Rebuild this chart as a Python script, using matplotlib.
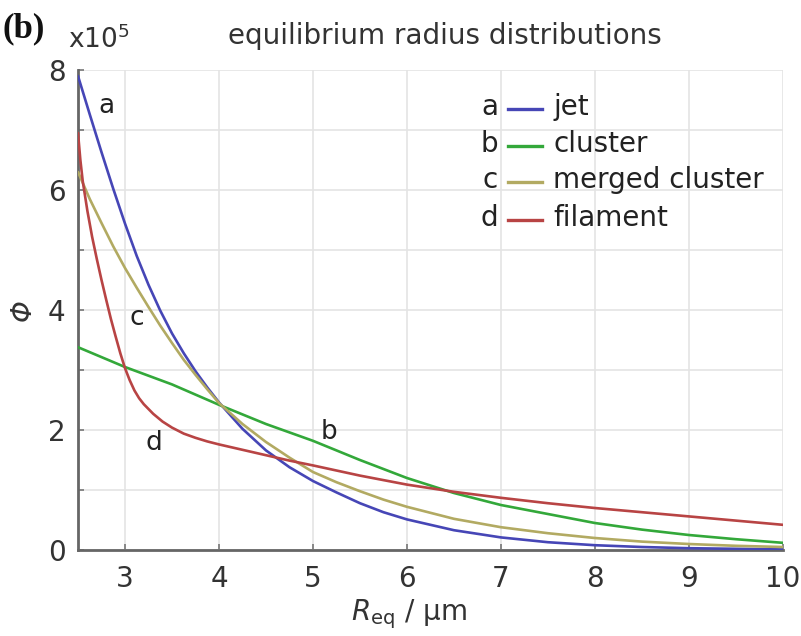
import numpy as np
import matplotlib
matplotlib.use("Agg")
import matplotlib.pyplot as plt

# values, in units of 1e5
r_jet = [2.5, 2.625, 2.75, 2.875, 3.0, 3.125, 3.25, 3.375, 3.5, 3.625, 3.75, 3.875, 4.0,
         4.25, 4.5, 4.75, 5.0, 5.25, 5.5, 5.75, 6.0, 6.5, 7.0, 7.5, 8.0, 8.5, 9.0, 9.5, 10.0]
phi_jet = [7.9, 7.26, 6.63, 6.02, 5.44, 4.9, 4.42, 3.99, 3.61, 3.28, 2.98, 2.71, 2.46,
           2.02, 1.66, 1.38, 1.15, 0.96, 0.78, 0.63, 0.51, 0.33, 0.21, 0.13, 0.08, 0.05, 0.03, 0.02, 0.01]

r_cluster = [2.5, 3.0, 3.5, 4.0, 4.5, 5.0, 5.5, 6.0, 6.5, 7.0, 7.5, 8.0, 8.5, 9.0, 9.5, 10.0]
phi_cluster = [3.38, 3.05, 2.76, 2.42, 2.1, 1.82, 1.5, 1.2, 0.95, 0.75, 0.6, 0.45, 0.34, 0.25, 0.18, 0.12]

r_merged = [2.5, 2.625, 2.75, 2.875, 3.0, 3.125, 3.25, 3.375, 3.5, 3.625, 3.75, 3.875, 4.0,
            4.25, 4.5, 4.75, 5.0, 5.25, 5.5, 5.75, 6.0, 6.5, 7.0, 7.5, 8.0, 8.5, 9.0, 9.5, 10.0]
phi_merged = [6.3, 5.85, 5.45, 5.06, 4.7, 4.37, 4.05, 3.74, 3.45, 3.17, 2.92, 2.68, 2.45,
              2.1, 1.8, 1.54, 1.3, 1.13, 0.98, 0.84, 0.72, 0.52, 0.38, 0.28, 0.2, 0.14, 0.1, 0.07, 0.05]

r_fil = [2.5, 2.525, 2.55, 2.6, 2.65, 2.7, 2.75, 2.8, 2.85, 2.9, 2.95, 3.0, 3.05, 3.1, 3.15,
         3.2, 3.3, 3.4, 3.5, 3.625, 3.75, 3.875, 4.0, 4.25, 4.5, 4.75, 5.0, 5.5, 6.0, 6.5,
         7.0, 7.5, 8.0, 8.5, 9.0, 9.5, 10.0]
phi_fil = [6.95, 6.5, 6.15, 5.65, 5.22, 4.85, 4.5, 4.17, 3.85, 3.56, 3.28, 3.03, 2.83, 2.66, 2.53,
           2.43, 2.27, 2.14, 2.04, 1.94, 1.87, 1.81, 1.76, 1.67, 1.58, 1.49, 1.41, 1.24, 1.09, 0.97,
           0.87, 0.78, 0.7, 0.63, 0.56, 0.49, 0.42]

letters = ["a", "b", "c", "d"]
names = ["jet", "cluster", "merged cluster", "filament"]
colors = ["#4646b6", "#33a83a", "#b2aa62", "#b84444"]

fig = plt.figure(figsize=(8.01, 6.36), dpi=100)
ax = fig.add_axes([0.0974, 0.1352, 0.880, 0.7547])

series = [(r_jet, phi_jet), (r_cluster, phi_cluster), (r_merged, phi_merged), (r_fil, phi_fil)]
for (x, y), c in zip(series, colors):
    ax.plot(x, y, color=c, lw=1.9, solid_capstyle="round", zorder=3)

ax.set_xlim(2.5, 10)
ax.set_ylim(0, 8)
ax.set_xticks(range(3, 11))
ax.set_yticks(range(0, 9))
ax.set_yticklabels([str(v) if v % 2 == 0 else "" for v in range(0, 9)])
ax.grid(True, color="#e4e4e4", lw=1.2, zorder=0)
ax.tick_params(direction="in", length=4, width=1.2, color="#777777",
               labelsize=20, labelcolor="#333333")
ax.tick_params(axis="x", pad=11)
ax.tick_params(axis="y", pad=9)
for s in ["top", "right"]:
    ax.spines[s].set_visible(False)
for s in ["left", "bottom"]:
    ax.spines[s].set_color("#666666")
    ax.spines[s].set_linewidth(2)

ax.set_xlabel(r"$R_{\rm eq}$ / μm", fontsize=20, color="#333333")
ax.xaxis.set_label_coords(0.47, -0.098)
ax.set_ylabel("Φ", fontsize=20, style="italic", color="#333333", labelpad=8)

# curve letters
ax.text(2.80, 7.4, "a", fontsize=19, color="#222222", ha="center", va="center")
ax.text(3.13, 3.87, "c", fontsize=19, color="#222222", ha="center", va="center")
ax.text(3.31, 1.78, "d", fontsize=19, color="#222222", ha="center", va="center")
ax.text(5.17, 1.97, "b", fontsize=19, color="#222222", ha="center", va="center")

# legend built by hand
leg_y = [0.923, 0.846, 0.771, 0.692]
for yy, let, nm, c in zip(leg_y, letters, names, colors):
    ax.text(0.584, yy, let, transform=ax.transAxes, fontsize=20, color="#222222",
            ha="center", va="center")
    ax.plot([0.610, 0.658], [yy - 0.004, yy - 0.004], transform=ax.transAxes,
            color=c, lw=2.4, clip_on=False)
    ax.text(0.674, yy, nm, transform=ax.transAxes, fontsize=20, color="#222222",
            ha="left", va="center")

fig.text(0.555, 0.943, "equilibrium radius distributions", fontsize=20,
         color="#333333", ha="center", va="center")
fig.text(0.085, 0.937, r"x10$^5$", fontsize=19, color="#333333", ha="left", va="center")
fig.text(0.003, 0.954, "(b)", fontsize=25, fontweight="bold", family="Liberation Serif",
         color="#111111", ha="left", va="center")

fig.savefig("out.png", dpi=100)
